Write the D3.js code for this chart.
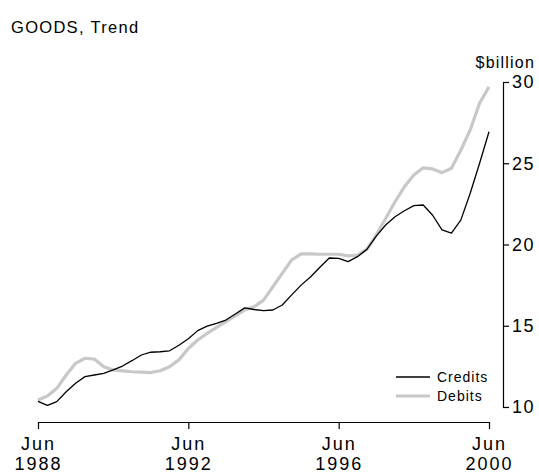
<!DOCTYPE html>
<html><head><meta charset="utf-8">
<script src="https://cdn.jsdelivr.net/npm/d3@7"></script>
<style>body{margin:0;background:#fff}svg{display:block}text{font-family:"Liberation Sans",Arial,sans-serif;fill:#000}</style>
</head><body>
<script>
const quarters = d3.range(49); // Jun 1988 .. Jun 2000, quarterly index
const credits = [10.35,10.1,10.33,10.94,11.46,11.87,11.97,12.07,12.28,12.52,12.85,13.2,13.37,13.4,13.46,13.8,
  14.2,14.7,14.98,15.15,15.35,15.72,16.1,16.0,15.93,15.97,16.28,16.9,17.5,18.0,18.6,19.17,
  19.15,18.95,19.25,19.7,20.52,21.2,21.71,22.08,22.39,22.43,21.8,20.9,20.7,21.5,23.15,25.0,26.94];
const debits = [10.43,10.68,11.15,11.97,12.69,13.0,12.95,12.48,12.28,12.22,12.17,12.15,12.12,12.23,12.48,12.9,
  13.6,14.12,14.53,14.9,15.25,15.6,15.97,16.17,16.58,17.4,18.23,19.05,19.42,19.42,19.4,19.4,
  19.4,19.3,19.35,19.7,20.58,21.6,22.63,23.55,24.28,24.72,24.65,24.42,24.69,25.8,27.05,28.7,29.7];
const xTickIdx = [0,16,32,48];
const xTickLabels = [["Jun","1988"],["Jun","1992"],["Jun","1996"],["Jun","2000"]];
const yTicks = [10,15,20,25,30];
const seriesNames = ["Credits","Debits"];

const W=539,H=473;
const FONT="Liberation Sans, Arial, sans-serif";
const svg=d3.select("body").append("svg").attr("width",W).attr("height",H);
const x=d3.scaleLinear().domain([0,48]).range([38,489]);
const y=d3.scaleLinear().domain([10,30]).range([407,82]);

svg.append("text").attr("x",11).attr("y",33).attr("font-size",16.5).attr("letter-spacing",1.3).text("GOODS, Trend");
svg.append("text").attr("x",535).attr("y",68).attr("text-anchor","end").attr("font-size",16).attr("letter-spacing",1.2).text("$billion");

// y axis on right
const ya=svg.append("g").attr("transform","translate(503,0)")
  .call(d3.axisRight(y).tickValues(yTicks).tickSize(6).tickSizeOuter(0).tickPadding(3));
ya.select(".domain").attr("stroke","#000").attr("stroke-width",1.2);
ya.selectAll(".tick line").attr("stroke","#000").attr("stroke-width",1.2);
ya.selectAll(".tick text").attr("font-size",18).attr("letter-spacing",1.5).attr("font-family",FONT).attr("fill","#000");

// x axis
const xa=svg.append("g").attr("transform","translate(0,422)")
  .call(d3.axisBottom(x).tickValues(xTickIdx).tickSize(7).tickSizeOuter(0).tickFormat(""));
xa.select(".domain").attr("stroke","#000").attr("stroke-width",1.2);
xa.selectAll(".tick line").attr("stroke","#000").attr("stroke-width",1.2);
xa.selectAll(".tick").each(function(d,i){
  const t=d3.select(this).append("text").attr("text-anchor","middle").attr("font-size",18)
    .attr("letter-spacing",2).attr("font-family",FONT).attr("fill","#000");
  t.append("tspan").attr("x",0).attr("y",28).text(xTickLabels[i][0]);
  t.append("tspan").attr("x",0).attr("y",48).text(xTickLabels[i][1]);
});

const line=d3.line().x((d,i)=>x(quarters[i])).y(d=>y(d));
svg.append("path").datum(debits).attr("d",line).attr("fill","none").attr("stroke","#c8c8c8").attr("stroke-width",3.2).attr("stroke-linejoin","round");
svg.append("path").datum(credits).attr("d",line).attr("fill","none").attr("stroke","#000").attr("stroke-width",1.3).attr("stroke-linejoin","round");

// legend
const lg=svg.append("g");
[["#000",1.3],["#c8c8c8",3.2]].forEach((s,i)=>{
  const yy=377+i*19;
  lg.append("line").attr("x1",396).attr("x2",430).attr("y1",yy).attr("y2",yy).attr("stroke",s[0]).attr("stroke-width",s[1]);
  lg.append("text").attr("x",437).attr("y",yy+5).attr("font-size",14).attr("letter-spacing",1).text(seriesNames[i]);
});
</script>
</body></html>
